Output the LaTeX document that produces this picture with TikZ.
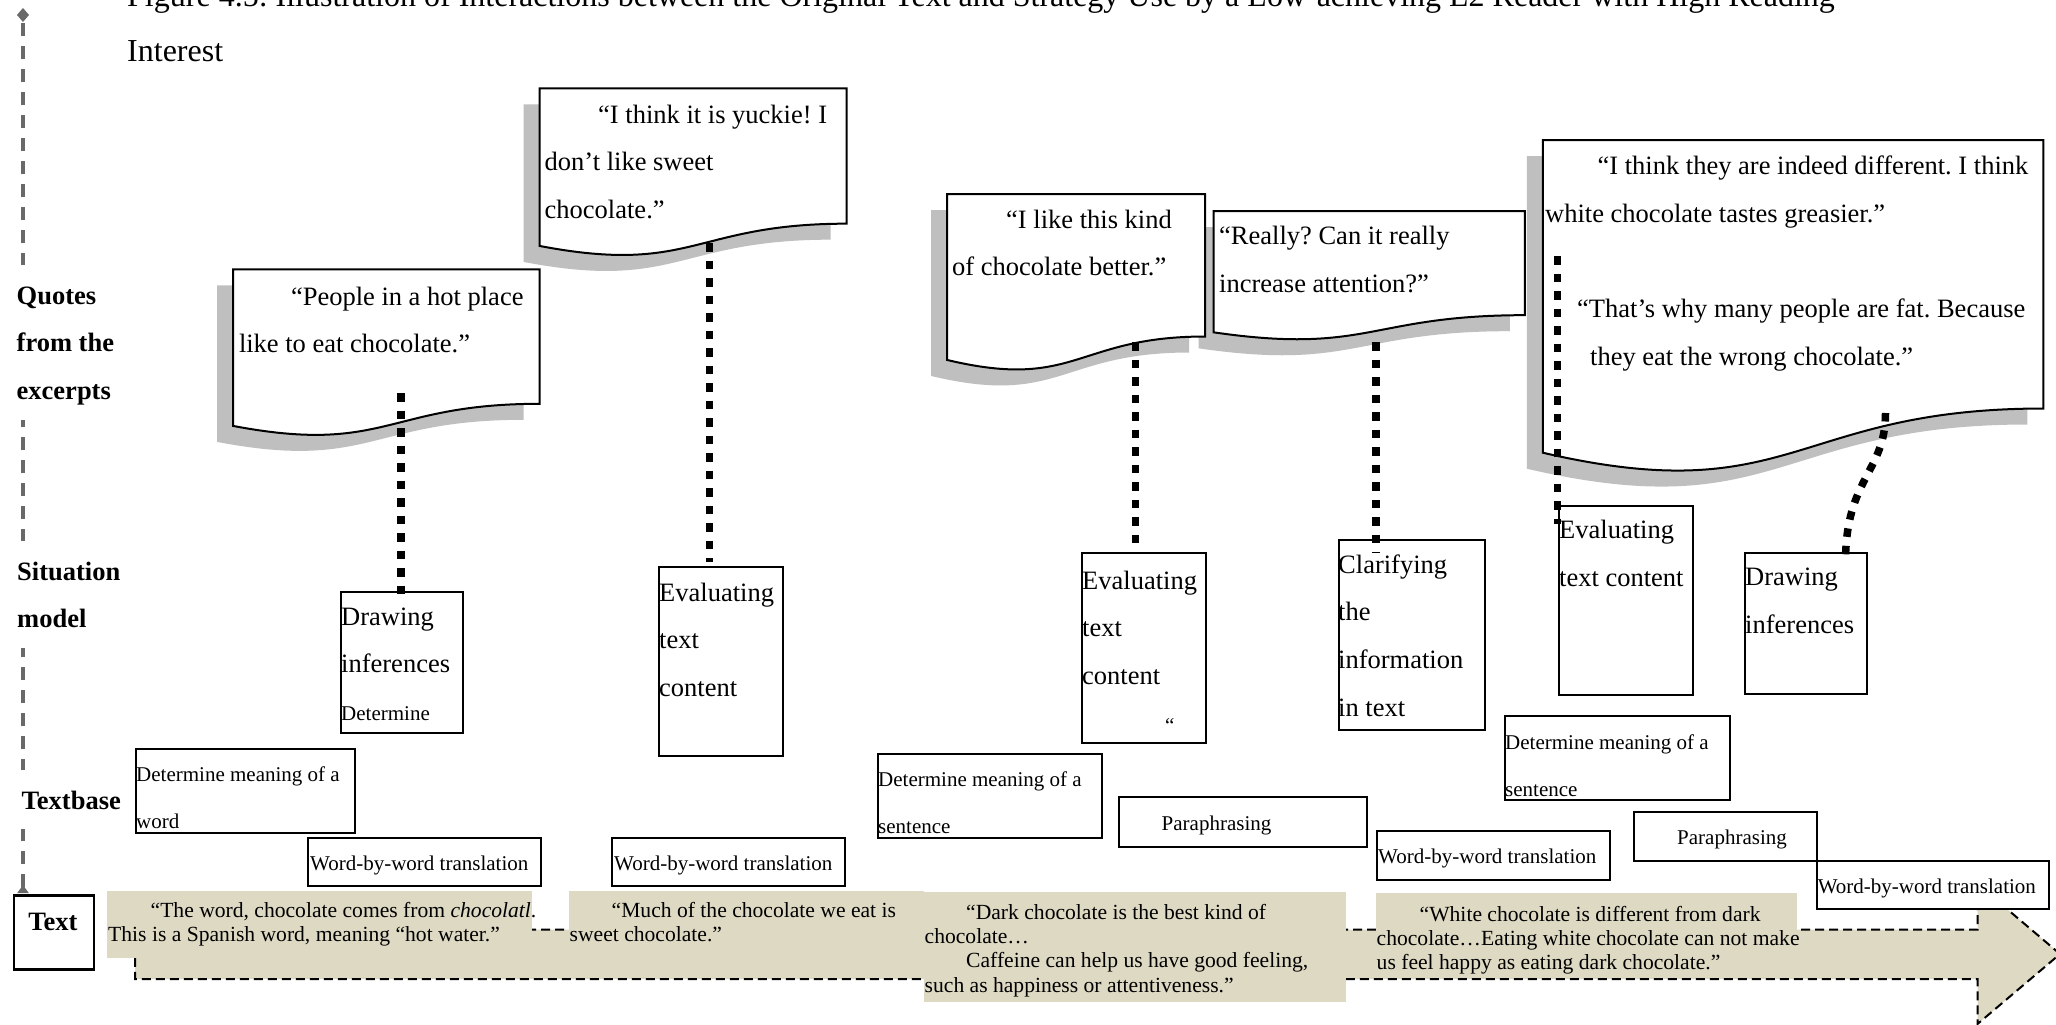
\documentclass[tikz,border=0pt]{standalone}
\usepackage{fontspec}
\setmainfont{Liberation Serif}
\usetikzlibrary{arrows.meta}
\definecolor{stripfill}{RGB}{221,217,195}
\definecolor{shadowgray}{RGB}{191,191,191}
\definecolor{axisgray}{RGB}{105,105,105}
\newcommand\fntH{\fontsize{32}{55}\selectfont}
\newcommand\fntQ{\fontsize{26.5}{47.7}\selectfont}
\newcommand\fntB{\bfseries\fontsize{26.5}{47.7}\selectfont}
\newcommand\fntS{\fontsize{21}{47.3}\selectfont}
\newcommand\fntT{\fontsize{21.6}{24.4}\selectfont}
% lines stacked from the first baseline down
\newcommand\mlines[1]{\begin{tabular}[t]{@{}l@{}}#1\end{tabular}}
% sheet with a wavy lower edge: options, x, y (top left), width, height
\newcommand\docshape[5]{%
  \path[#1] (#2,#3) -- ({#2+#4},#3) -- ({#2+#4},{#3+0.802*#5})
    .. controls ({#2+0.5*#4},{#3+0.802*#5}) and ({#2+0.5*#4},{#3+1.1075*#5})
    .. (#2,{#3+0.934*#5}) -- cycle;}

\begin{document}
\frenchspacing
\begin{tikzpicture}[x=1pt,y=-1pt,
  txt/.style={inner sep=0pt, anchor=base west},
  sbox/.style={draw, line width=2pt, fill=white, inner sep=0pt, anchor=north west},
  strip/.style={fill=stripfill, inner sep=0pt, anchor=north west},
  dotlink/.style={line width=7.5pt, dash pattern=on 8.5pt off 9pt},
  lbl/.style={fill=white, inner xsep=2pt, inner ysep=6pt, anchor=base west, font=\fntB},
  axis/.style={draw=axisgray, line width=3.5pt, dash pattern=on 13pt off 10pt},
  arrowline/.style={draw, line width=2pt, dash pattern=on 9pt off 5pt}]

\fill[white] (0,0) rectangle (2056,1025);
\useasboundingbox (0,0) rectangle (2056,1025);

% caption
\node[txt, font=\fntH] (title) at (127,7) {\mlines{Figure 4.5: Illustration of Interactions between the Original Text and Strategy Use by a Low-achieving L2 Reader with High Reading\\Interest}};

% level axis
\coordinate (axbot) at (23,893);
\coordinate (axtop) at (23,8);
\draw[axis, {Triangle[reversed,length=8pt,width=11pt]}-{Diamond[length=14pt,width=12pt]}] (axbot) -- (axtop);

\node[lbl] (lquotes) at (14.5,304) {\mlines{Quotes\\from the\\excerpts}};
\node[lbl] (lsituation) at (15,580) {\mlines{Situation\\model}};
\node[lbl] (ltextbase) at (19.5,809) {\mlines{Textbase}};
\node[draw, line width=2.5pt, fill=white, inner sep=0pt, anchor=north west,
      minimum width=80pt, minimum height=74pt] (textlevel) at (12.6,894) {};
\node[txt, anchor=base, font=\fntB] (textlabel) at (52.8,930) {Text};

% quote sheets: shadows, then sheets
\docshape{fill=shadowgray, shift={(-16,16)}}{233.2}{269.3}{306.5}{167.7}
\docshape{fill=shadowgray, shift={(-16,16)}}{539.7}{88.3}{307}{168.8}
\docshape{fill=shadowgray, shift={(-16,16)}}{947.2}{194}{257.8}{177.7}
\docshape{fill=shadowgray, shift={(-15,16)}}{1213.6}{211}{311.2}{129.9}
\docshape{fill=shadowgray, shift={(-16,16)}}{1542.8}{140}{500.6}{334.8}
\docshape{draw, line width=2pt, fill=white}{233.2}{269.3}{306.5}{167.7}
\docshape{draw, line width=2pt, fill=white}{539.7}{88.3}{307}{168.8}
\docshape{draw, line width=2pt, fill=white}{947.2}{194}{257.8}{177.7}
\docshape{draw, line width=2pt, fill=white}{1213.6}{211}{311.2}{129.9}
\docshape{draw, line width=2pt, fill=white}{1542.8}{140}{500.6}{334.8}

\node[txt, font=\fntQ] (q1) at (238.8,305) {\mlines{\hspace*{52pt}“People in a hot place\\like to eat chocolate.”}};
\node[txt, font=\fntQ] (q2) at (544.5,123) {\mlines{\hspace*{53.5pt}“I think it is yuckie! I\\don’t like sweet\\chocolate.”}};
\node[txt, font=\fntQ] (q3) at (952,228) {\mlines{\hspace*{54pt}“I like this kind\\of chocolate better.”}};
\node[txt, font=\fntQ] (q4) at (1219,244.5) {\mlines{“Really? Can it really\\increase attention?”}};
\node[txt, font=\fntQ] (q5) at (1545,174.7) {\mlines{\hspace*{52.4pt}“I think they are indeed different. I think\\white chocolate tastes greasier.”\\ \\\hspace*{32pt}“That’s why many people are fat. Because\\\hspace*{45pt}they eat the wrong chocolate.”}};

% situation model strategies
\node[sbox, minimum width=122pt, minimum height=140.3pt] (s1) at (340,591.3) {};
\node[sbox, minimum width=124pt, minimum height=189.3pt] (s2) at (658,565.8) {};
\node[sbox, minimum width=124pt, minimum height=189.7pt] (s3) at (1081,552.3) {};
\node[sbox, minimum width=146.5pt, minimum height=190pt] (s4) at (1337.5,539) {};
\node[sbox, minimum width=133.8pt, minimum height=188.5pt] (s5) at (1557.7,505) {};
\node[sbox, minimum width=121.7pt, minimum height=141pt] (s6) at (1743.8,552.3) {};
\node[txt, font=\fntQ] (s1t) at (341,625) {\mlines{Drawing\\inferences\\{\fntS Determine}}};
\node[txt, font=\fntQ] (s2t) at (659,601) {\mlines{Evaluating\\text\\content}};
\node[txt, font=\fntQ] (s3t) at (1082,589) {\mlines{Evaluating\\text\\content\\{\fntS\hspace*{83pt}“}}};
\node[txt, font=\fntQ] (s4t) at (1338,573) {\mlines{Clarifying\\the\\information\\in text}};
\node[txt, font=\fntQ] (s5t) at (1559,538.5) {\mlines{Evaluating\\text content}};
\node[txt, font=\fntQ] (s6t) at (1745,585.5) {\mlines{Drawing\\inferences}};

% textbase strategies
\node[sbox, minimum width=219pt, minimum height=83.6pt] (tb1) at (135,748) {};
\node[sbox, minimum width=233pt, minimum height=48.6pt] (ww1) at (307,836.8) {};
\node[sbox, minimum width=233pt, minimum height=48pt] (ww2) at (611,837) {};
\node[sbox, minimum width=224pt, minimum height=84pt] (tb2) at (877,753) {};
\node[sbox, minimum width=248.3pt, minimum height=49.7pt] (p1) at (1117.7,796) {};
\node[sbox, minimum width=232.5pt, minimum height=49pt] (ww3) at (1376,830) {};
\node[sbox, minimum width=224.5pt, minimum height=84pt] (tb3) at (1504,715) {};
\node[sbox, minimum width=182.5pt, minimum height=48.6pt] (p2) at (1633,811) {};
\node[txt, font=\fntS] (tb1t) at (136,781) {\mlines{Determine meaning of a\\word}};
\node[txt, font=\fntS] (ww1t) at (310,870) {Word-by-word translation};
\node[txt, font=\fntS] (ww2t) at (614,870) {Word-by-word translation};
\node[txt, font=\fntS] (tb2t) at (878,786) {\mlines{Determine meaning of a\\sentence}};
\node[txt, font=\fntS] (p1t) at (1161.5,830.5) {Paraphrasing};
\node[txt, font=\fntS] (ww3t) at (1378,863) {Word-by-word translation};
\node[txt, font=\fntS] (tb3t) at (1505,749.5) {\mlines{Determine meaning of a\\sentence}};
\node[txt, font=\fntS] (p2t) at (1677,844.5) {Paraphrasing};

% original text: block arrow with excerpt panels
\path[arrowline, fill=stripfill] (135,929.5) -- (1977.5,929.5) -- (1977.5,884) -- (2060,954)
  -- (1977.5,1024) -- (1977.5,979) -- (135,979) -- cycle;
\node[strip, minimum width=424.5pt, minimum height=67pt] (b1) at (107,891) {};
\node[strip, minimum width=355pt, minimum height=67pt] (b2) at (569,891) {};
\node[strip, minimum width=422pt, minimum height=110pt] (b3) at (924,892) {};
\node[strip, minimum width=421pt, minimum height=84pt] (b4) at (1376,893) {};
\node[txt, font=\fntT] (b1t) at (108,917.5) {\mlines{\hspace*{42.5pt}“The word, chocolate comes from \textit{chocolatl}.\\This is a Spanish word, meaning “hot water.”}};
\node[txt, font=\fntT] (b2t) at (569.5,917.5) {\mlines{\hspace*{42pt}“Much of the chocolate we eat is\\sweet chocolate.”}};
\node[txt, font=\fntT] (b3t) at (924.5,919) {\mlines{\hspace*{41.5pt}“Dark chocolate is the best kind of\\chocolate…\\\hspace*{41.5pt}Caffeine can help us have good feeling,\\such as happiness or attentiveness.”}};
\node[txt, font=\fntT] (b4t) at (1376.5,921) {\mlines{\hspace*{43pt}“White chocolate is different from dark\\chocolate…Eating white chocolate can not make\\us feel happy as eating dark chocolate.”}};
\node[sbox, minimum width=232.2pt, minimum height=48.6pt] (ww4) at (1815.5,859.6) {};
\node[txt, font=\fntS] (ww4t) at (1817.6,893) {Word-by-word translation};

% links from quotes to strategies
\coordinate (c1s) at (401,393);     \coordinate (c1e) at (401,601);
\coordinate (c2s) at (709.5,243);   \coordinate (c2e) at (709.5,562);
\coordinate (c3s) at (1135.5,342);  \coordinate (c3e) at (1135.5,553);
\coordinate (c4s) at (1376,342);    \coordinate (c4e) at (1376,553);
\coordinate (c5s) at (1557.7,256);  \coordinate (c5e) at (1557.7,524);
\coordinate (c6s) at (1885.5,413);  \coordinate (c6e) at (1845.5,562);
\draw[dotlink] (c1s) -- (c1e);
\draw[dotlink] (c2s) -- (c2e);
\draw[dotlink] (c3s) -- (c3e);
\draw[dotlink] (c4s) -- (c4e);
\draw[dotlink] (c5s) -- (c5e);
\draw[dotlink] (c6s) .. controls (1885.5,472) and (1845.5,478) .. (c6e);
\end{tikzpicture}
\end{document}
